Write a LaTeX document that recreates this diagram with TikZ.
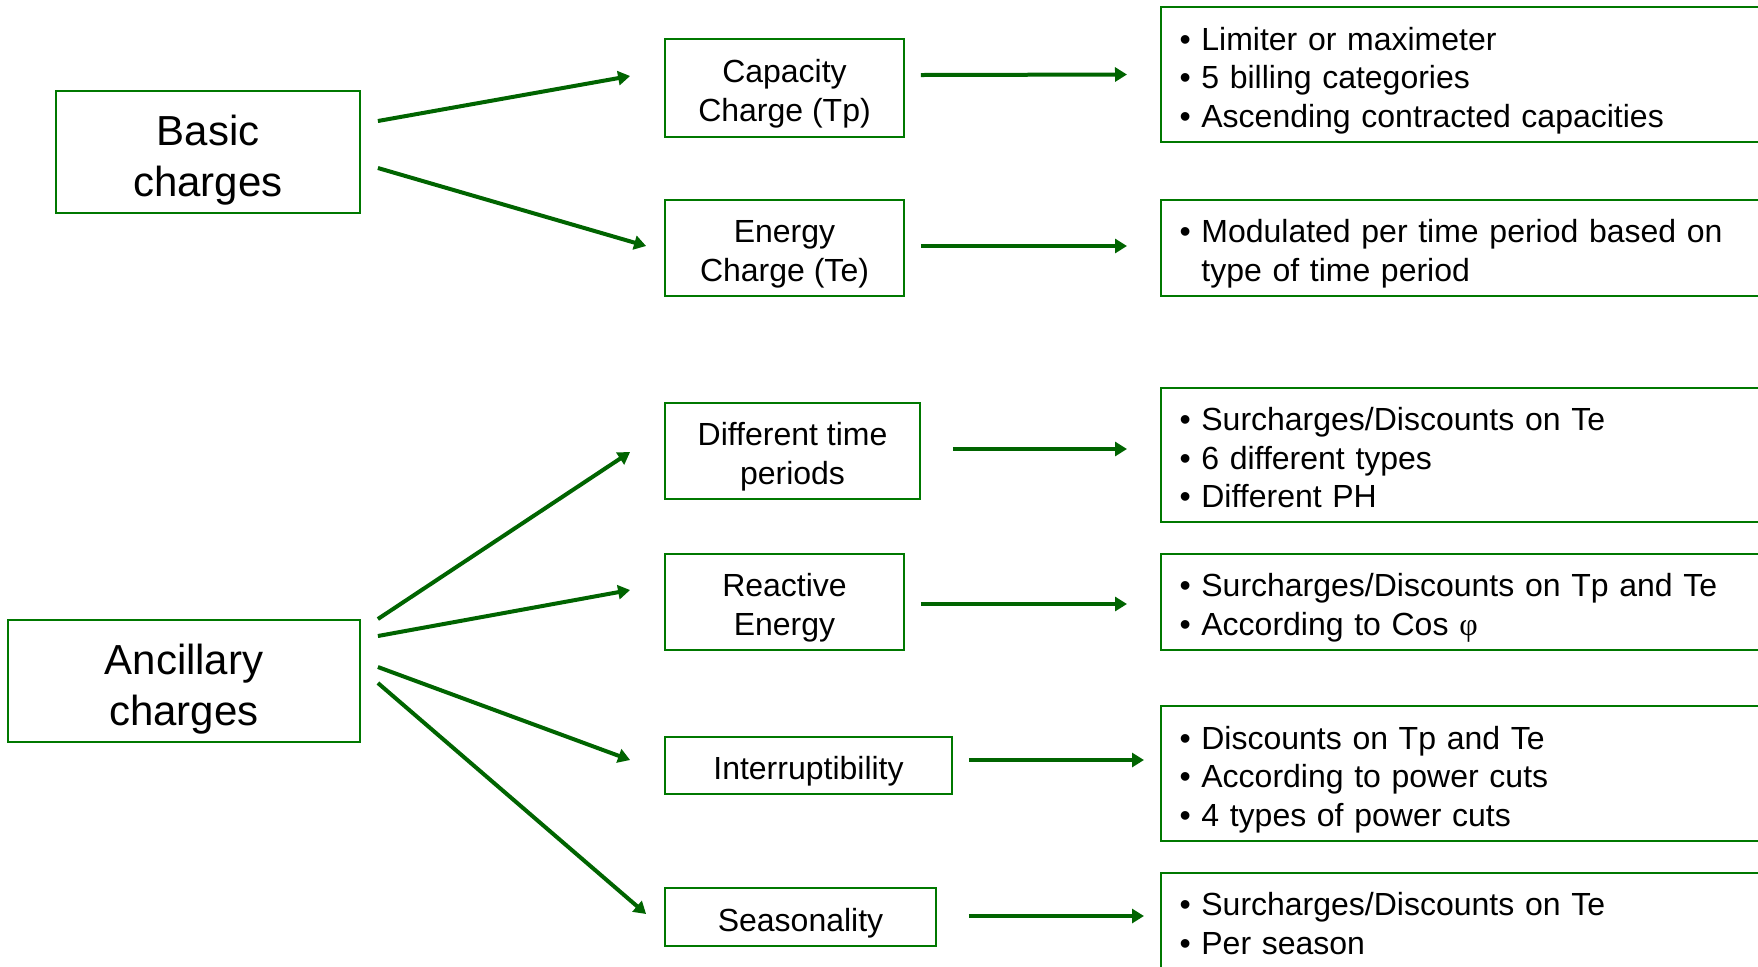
\documentclass[tikz,border=0pt]{standalone}
\usepackage{fontspec}
\setmainfont{Liberation Sans}
\newfontfamily\phifont{Liberation Serif}
\usepackage{tikz}
\usetikzlibrary{arrows.meta}
\definecolor{boxgreen}{RGB}{0,120,0}
\definecolor{linkgreen}{RGB}{0,100,0}
\newcommand\sthi{\rule{0pt}{1.14em}}
\newcommand\stlo{\rule[-.25em]{0pt}{0pt}}

\begin{document}
\begin{tikzpicture}[x=0.5pt,y=-0.5pt,
     box/.style={draw=boxgreen,line width=0.9pt,align=center,inner sep=0pt,
       font=\fontsize{16}{19.3}\selectfont},
     bigbox/.style={box,font=\fontsize{21}{25.5}\selectfont},
     notebox/.style={draw=boxgreen,line width=0.9pt,anchor=west,align=left,
       text width=300pt,inner xsep=9.3pt,inner ysep=0pt,
       font=\fontsize{16}{19.3}\selectfont},
     link/.style={draw=linkgreen,line width=2pt,
       -{Triangle[length=6pt,width=7pt]}}]
     \useasboundingbox (0,0) rectangle (1758,966);
     \clip (0,0) rectangle (1758,966);
     % left column
     \node[bigbox,minimum width=152pt,minimum height=61pt] (basic) at (208,152) {\sthi Basic\\charges\stlo};
     \node[bigbox,minimum width=176pt,minimum height=61pt] (ancil) at (184,681) {\sthi Ancillary\\charges\stlo};
     % middle column
     \node[box,minimum width=119.5pt,minimum height=49pt] (cap)    at (784.5, 88) {\sthi Capacity\\Charge (Tp)\stlo};
     \node[box,minimum width=119.5pt,minimum height=48pt] (energy) at (784.5,248) {\sthi Energy\\Charge (Te)\stlo};
     \node[box,minimum width=127.5pt,minimum height=48pt] (diff)   at (792.5,451) {\sthi Different time\\periods\stlo};
     \node[box,minimum width=119.5pt,minimum height=48pt] (react)  at (784.5,602) {\sthi Reactive\\Energy\stlo};
     \node[box,minimum width=143.5pt,minimum height=28.5pt] (inter) at (808.5,765.5) {\sthi Interruptibility\stlo};
     \node[box,minimum width=135.5pt,minimum height=29pt] (season) at (800.5,917) {\sthi Seasonality\stlo};
     % right column
     \node[notebox,minimum height=67.5pt] (capnote) at (1160,74.5)
      {\sthi• Limiter or maximeter\\• 5 billing categories\\• Ascending contracted capacities\stlo};
     \node[notebox,minimum height=48pt] (energynote) at (1160,248)
      {\sthi• Modulated per time period based on\\\phantom{• }type of time period\stlo};
     \node[notebox,minimum height=67pt] (diffnote) at (1160,455)
      {\sthi• Surcharges/Discounts on Te\\• 6 different types\\• Different PH\stlo};
     \node[notebox,minimum height=48pt] (reactnote) at (1160,602)
      {\sthi• Surcharges/Discounts on Tp and Te\\• According to Cos {\phifont φ}\stlo};
     \node[notebox,minimum height=67.5pt] (internote) at (1160,773.5)
      {\sthi• Discounts on Tp and Te\\• According to power cuts\\• 4 types of power cuts\stlo};
     \node[notebox,minimum height=48pt] (seasonnote) at (1160,921)
      {\sthi• Surcharges/Discounts on Te\\• Per season\stlo};
     % links
     \draw[link] ([xshift=8.5pt,yshift=15.5pt]basic.east) -- ([xshift=-17pt,yshift=6pt]cap.west);
     \draw[link] ([xshift=8.5pt,yshift=-8pt]basic.east)   -- ([xshift=-9pt,yshift=1pt]energy.west);
     \draw[link] ([xshift=8.5pt,yshift=31pt]ancil.east)   -- ([xshift=-17pt,yshift=-0.5pt]diff.west);
     \draw[link] ([xshift=8.5pt,yshift=22.5pt]ancil.east) -- ([xshift=-17pt,yshift=6pt]react.west);
     \draw[link] ([xshift=8.5pt,yshift=7pt]ancil.east)    -- ([xshift=-17pt,yshift=2.75pt]inter.west);
     \draw[link] ([xshift=8.5pt,yshift=-1pt]ancil.east)   -- ([xshift=-9pt,yshift=1.5pt]season.west);
     \draw[link] ([xshift=8pt,yshift=6.5pt]cap.east)      -- ([xshift=-16.5pt]capnote.west);
     \draw[link] ([xshift=8pt,yshift=1pt]energy.east)     -- ([xshift=-16.5pt,yshift=1pt]energynote.west);
     \draw[link] ([xshift=16pt,yshift=1pt]diff.east)      -- ([xshift=-16.5pt,yshift=3pt]diffnote.west);
     \draw[link] ([xshift=8pt,yshift=-1pt]react.east)     -- ([xshift=-16.5pt,yshift=-1pt]reactnote.west);
     \draw[link] ([xshift=8pt,yshift=2.75pt]inter.east)   -- ([xshift=-8pt,yshift=6.75pt]internote.west);
     \draw[link] ([xshift=16pt,yshift=0.5pt]season.east)  -- ([xshift=-8pt,yshift=2.5pt]seasonnote.west);
    \end{tikzpicture}
\end{document}
